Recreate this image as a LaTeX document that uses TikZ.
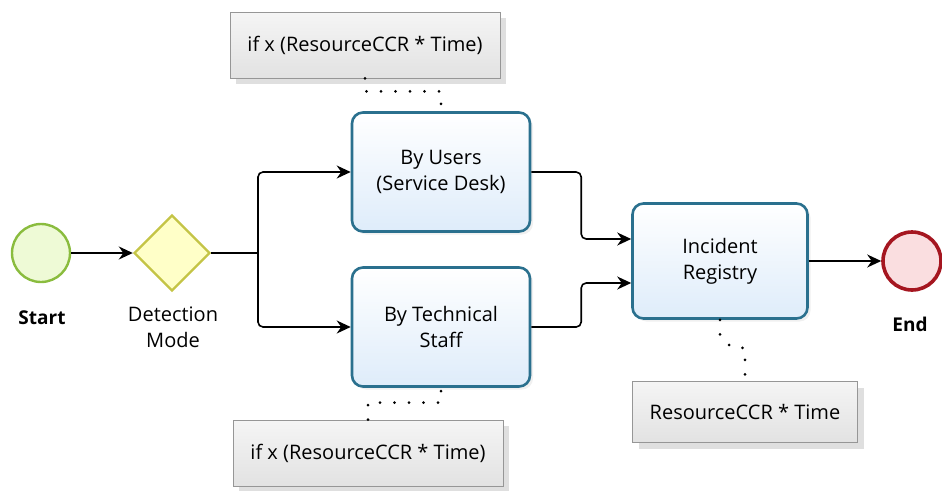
\documentclass[tikz,border=0pt]{standalone}
\usepackage{fontspec}
\setsansfont{Open Sans}
\usepackage{xcolor}
\usepackage{tikz}
\usetikzlibrary{positioning,arrows.meta,shapes.geometric,calc,shadows}

\definecolor{taskline}{RGB}{42,112,142}
\definecolor{taskfill}{RGB}{222,236,250}
\definecolor{startline}{RGB}{138,188,62}
\definecolor{startfill}{RGB}{238,250,214}
\definecolor{gateline}{RGB}{196,196,70}
\definecolor{gatefill}{RGB}{255,255,200}
\definecolor{endline}{RGB}{165,22,32}
\definecolor{endfill}{RGB}{250,222,224}
\definecolor{noteline}{RGB}{150,150,150}
\definecolor{notefill}{RGB}{226,226,226}

\begin{document}
\begin{tikzpicture}[
    x=1pt, y=-1pt,
    font=\fontsize{20}{26}\selectfont\sffamily,
    every node/.style={align=center},
    task/.style={rectangle, rounded corners=11pt, draw=taskline, line width=2.6pt,
                 top color=white, bottom color=taskfill,
                 minimum width=178pt, minimum height=119pt, inner sep=2pt,
                 drop shadow={opacity=0.12, shadow xshift=3pt, shadow yshift=-3pt}},
    startev/.style={circle, draw=startline, line width=2.4pt, fill=startfill,
                    minimum size=58pt, inner sep=0pt},
    endev/.style={circle, draw=endline, line width=3.6pt, fill=endfill,
                  minimum size=58pt, inner sep=0pt},
    gateway/.style={diamond, draw=gateline, line width=2.4pt, fill=gatefill,
                    minimum width=76pt, minimum height=76pt, inner sep=0pt},
    note/.style={rectangle, draw=noteline, line width=0.8pt,
                 top color=white!96!black, bottom color=notefill,
                 minimum width=270pt, minimum height=66pt, inner sep=2pt,
                 drop shadow={opacity=0.25, shadow xshift=6pt, shadow yshift=-6pt}},
    evlabel/.style={font=\fontsize{19}{26}\selectfont\sffamily\bfseries},
    flow/.style={-{Stealth[length=14pt, width=13pt]}, line width=1.6pt, rounded corners=5pt},
    assoc/.style={line width=3pt, line cap=round, dash pattern=on 0pt off 14.5pt}
]
\useasboundingbox (0,0) rectangle (942,490);

% =========================================================
% Events and gateway
% =========================================================
\node[startev] (start) at (41,253) {};
\node[evlabel] (start_l) at (42,318) {Start};
\node[gateway] (detect) at (172,253) {};
\node (detect_l) at (173,327) {Detection\\Mode};
\node[endev] (end) at (912,261) {};
\node[evlabel] (end_l) at (910,324) {End};

% =========================================================
% Tasks
% =========================================================
\node[task] (users) at (441,172) {By Users\\(Service Desk)};
\node[task] (tech) at (441,327) {By Technical\\Staff};
\node[task, minimum width=175pt, minimum height=115pt] (registry) at (720,261) {Incident\\Registry};

% =========================================================
% Annotations
% =========================================================
\node[note] (users_n) at (365,45) {if x (ResourceCCR * Time)};
\node[note] (tech_n) at (368,453) {if x (ResourceCCR * Time)};
\node[note, minimum width=225pt, minimum height=61pt] (registry_n) at (745,412) {ResourceCCR * Time};

% =========================================================
% Sequence flows
% =========================================================
\coordinate (split) at (258,253);
\draw[flow] (start) -- (detect);
\draw[line width=1.6pt] (detect.east) -- (split);
\draw[flow] (split) |- (users.west);
\draw[flow] (split) |- (tech.west);
\draw[flow] (users.east) -| ([xshift=-50pt, yshift=22pt]registry.west) -- ([yshift=22pt]registry.west);
\draw[flow] (tech.east) -| ([xshift=-50pt, yshift=-22pt]registry.west) -- ([yshift=-22pt]registry.west);
\draw[flow] (registry) -- (end);

% =========================================================
% Associations
% =========================================================
\draw[assoc] (users_n.south) -- ++(0,13) -| (users.north);
\draw[assoc] (tech_n.north) -- ++(0,-17) -| (tech.south);
\draw[assoc] (registry.south) -- ++(0,16) -- ++(12,12) -- ++(13,0) -- (registry_n.north);

\end{tikzpicture}
\end{document}
